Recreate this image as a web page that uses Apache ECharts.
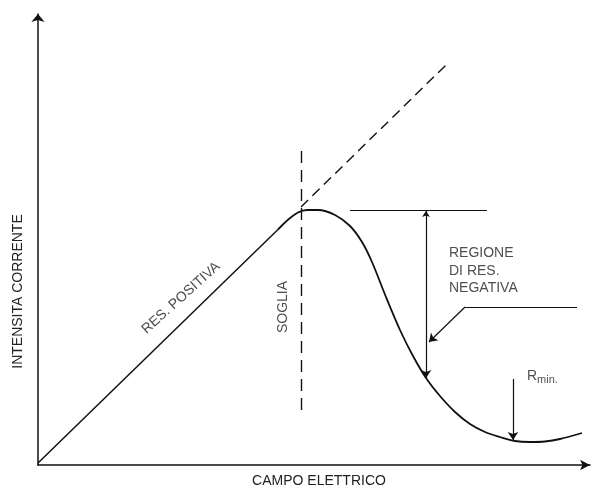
<!DOCTYPE html>
<html>
<head>
<meta charset="utf-8">
<script src="https://cdn.jsdelivr.net/npm/echarts@6/dist/echarts.min.js"></script>
<style>
  html, body { margin: 0; padding: 0; background: #fff; }
  #chart { width: 592px; height: 491px; }
</style>
</head>
<body>
<div id="chart"></div>
<script>
// Current vs. electric field for a negative-resistance device (arbitrary units)
const fieldRising = [0, 48];
const currentRising = [0.4, 47.1];

const fieldFalling = [48, 50, 52, 53.8, 56, 59.4, 62.4, 64.8, 66.8, 69.6, 72.4, 75, 77.6, 80.4, 83.4, 86.4, 89.4, 92.4, 95.4, 98.4, 101.4, 104.4, 108.8];
const currentFalling = [47.1, 49.05, 50.5, 51, 51, 50, 47.8, 44.6, 40.6, 33.6, 27, 21.8, 17.4, 13.8, 10.6, 8.2, 6.6, 5.6, 4.8, 4.6, 4.7, 5.2, 6.4];

// Ohmic extrapolation beyond threshold (dashed)
const extensionField = [52.6, 81.8];
const extensionCurrent = [51.6, 80.2];

// Threshold marker
const thresholdField = 52.6;
const thresholdSpan = [11, 63.4];

// Peak and valley reference lines
const peakLevel = 51;
const peakLineSpan = [62.4, 89.8];
const valleyRefLevel = 31.6;
const valleyRefSpan = [85.4, 107.8];

// Annotation arrows
const negRegionField = 77.6;
const negRegionSpan = [50.8, 17.4];
const leaderFrom = [85.4, 31.6];
const leaderTo = [78.2, 24.6];
const rminField = 95;
const rminSpan = [17.2, 5];

// Text annotations
const labelTexts = ['RES. POSITIVA', 'SOGLIA', 'REGIONE\nDI RES.\nNEGATIVA', '{r|R}{s|min.}'];
const labelField = [28.6, 49, 82.2, 97.8];
const labelCurrent = [33.4, 31.6, 38.8, 17.8];
const labelRotate = [42, 90, 0, 0];
const labelAlign = ['center', 'center', 'left', 'left'];

const xMax = 110.4;
const yMax = 90.2;

const ink = '#111';
const textColor = '#222';
const fontFamily = '"Liberation Sans", Arial, sans-serif';
const fontSize = 14;

const zip = (a, b) => a.map((v, i) => [v, b[i]]);

const chart = echarts.init(document.getElementById('chart'), null, { renderer: 'canvas' });

const segment = (coords, opts) => Object.assign({
  type: 'lines',
  coordinateSystem: 'cartesian2d',
  silent: true,
  symbol: ['none', 'none'],
  symbolSize: 8,
  lineStyle: { color: ink, width: 1.2, opacity: 1 },
  data: [{ coords: coords }]
}, opts || {});

chart.setOption({
  animation: false,
  backgroundColor: '#fff',
  grid: { left: 38, top: 14, right: 2, bottom: 26, containLabel: false, outerBoundsMode: 'none' },
  xAxis: {
    type: 'value', min: 0, max: xMax,
    name: 'CAMPO ELETTRICO', nameLocation: 'middle', nameGap: 9,
    nameTextStyle: { color: textColor, fontSize: fontSize, fontFamily: fontFamily, padding: [0, 0, 0, 10] },
    axisLine: { show: true, lineStyle: { color: ink, width: 1.5 }, symbol: ['none', 'arrow'], symbolSize: [8, 10] },
    axisTick: { show: false }, axisLabel: { show: false }, splitLine: { show: false }
  },
  yAxis: {
    type: 'value', min: 0, max: yMax,
    name: 'INTENSITA CORRENTE', nameLocation: 'middle', nameGap: 13, nameRotate: 90,
    nameTextStyle: { color: textColor, fontSize: fontSize, fontFamily: fontFamily, padding: [0, 104, 0, 0] },
    axisLine: { show: true, lineStyle: { color: ink, width: 1.5 }, symbol: ['none', 'arrow'], symbolSize: [10, 8] },
    axisTick: { show: false }, axisLabel: { show: false }, splitLine: { show: false }
  },
  series: [
    {
      type: 'line', silent: true, symbol: 'none',
      lineStyle: { color: ink, width: 1.5 },
      data: zip(fieldRising, currentRising)
    },
    {
      type: 'line', silent: true, symbol: 'none', smooth: 0.3,
      lineStyle: { color: ink, width: 1.8 },
      data: zip(fieldFalling, currentFalling)
    },
    segment(zip(extensionField, extensionCurrent), {
      lineStyle: { color: ink, width: 1.4, type: [10, 6], opacity: 1 }
    }),
    segment([[thresholdField, thresholdSpan[0]], [thresholdField, thresholdSpan[1]]], {
      lineStyle: { color: ink, width: 1.4, type: [12, 7], opacity: 1 }
    }),
    segment([[peakLineSpan[0], peakLevel], [peakLineSpan[1], peakLevel]]),
    segment([[valleyRefSpan[0], valleyRefLevel], [valleyRefSpan[1], valleyRefLevel]]),
    segment([[negRegionField, negRegionSpan[0]], [negRegionField, negRegionSpan[1]]], {
      symbol: ['arrow', 'arrow'], symbolSize: [6, 8]
    }),
    segment([leaderFrom, leaderTo], { symbol: ['none', 'arrow'], symbolSize: [6, 8] }),
    segment([[rminField, rminSpan[0]], [rminField, rminSpan[1]]], {
      symbol: ['none', 'arrow'], symbolSize: [6, 8]
    }),
    {
      type: 'scatter', silent: true, symbolSize: 0,
      data: labelTexts.map((t, i) => ({
        value: [labelField[i], labelCurrent[i]],
        label: {
          show: true, position: 'inside', formatter: t,
          rotate: labelRotate[i], align: labelAlign[i], verticalAlign: 'middle',
          color: textColor, fontSize: fontSize, fontFamily: fontFamily, lineHeight: 17.5,
          rich: {
            r: { fontSize: 14, color: textColor, fontFamily: fontFamily },
            s: { fontSize: 11, color: textColor, fontFamily: fontFamily, padding: [8, 0, 0, 0] }
          }
        }
      }))
    }
  ]
});
</script>
</body>
</html>
